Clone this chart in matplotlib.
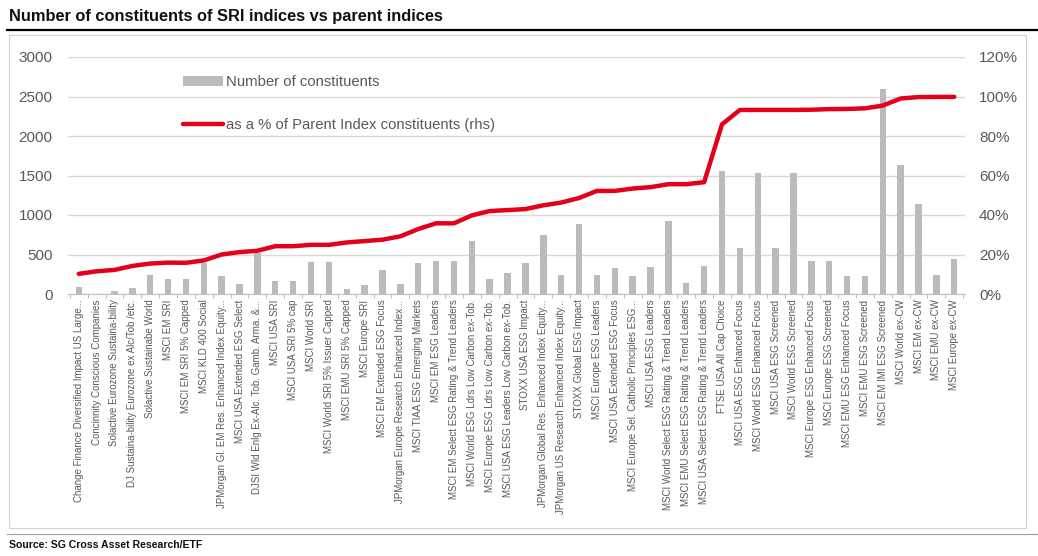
import matplotlib
matplotlib.use("Agg")
import matplotlib.pyplot as plt
from matplotlib.patches import Rectangle
from matplotlib.lines import Line2D
from matplotlib.ticker import FuncFormatter, FixedLocator

plt.rcParams['font.family'] = ['Liberation Sans', 'DejaVu Sans']

categories = [
    "Change Finance Diversified Impact US Large...",
    "Concinnity Conscious Companies",
    "Solactive Eurozone Sustaina-bility",
    "DJ Sustaina-bility Eurozone ex Alc/Tob /etc.",
    "Solactive Sustainabe World",
    "MSCI EM SRI",
    "MSCI EM SRI 5% Capped",
    "MSCI KLD 400 Social",
    "JPMorgan Gl. EM Res. Enhanced Index Equity...",
    "MSCI USA Extended ESG Select",
    "DJSI Wld Enlg Ex-Alc. Tob. Gamb. Arma. &...",
    "MSCI USA SRI",
    "MSCI USA SRI 5% cap",
    "MSCI World SRI",
    "MSCI World SRI 5% Issuer Capped",
    "MSCI EMU SRI 5% Capped",
    "MSCI Europe SRI",
    "MSCI EM Extended ESG Focus",
    "JPMorgan Europe Research Enhanced Index...",
    "MSCI TIAA ESG Emerging Markets",
    "MSCI EM ESG Leaders",
    "MSCI EM Select ESG Rating & Trend Leaders",
    "MSCI World ESG Ldrs Low Carbon ex-Tob.",
    "MSCI Europe ESG Ldrs Low Carbon ex-Tob.",
    "MSCI USA ESG Leaders Low Carbon ex-Tob.",
    "STOXX USA ESG Impact",
    "JPMorgan Global Res. Enhanced Index Equity...",
    "JPMorgan US Research Enhanced Index Equity...",
    "STOXX Global ESG Impact",
    "MSCI Europe ESG Leaders",
    "MSCI USA Extended ESG Focus",
    "MSCI Europe Sel. Catholic Principles ESG...",
    "MSCI USA ESG Leaders",
    "MSCI World Select ESG Rating & Trend Leaders",
    "MSCI EMU Select ESG Rating & Trend Leaders",
    "MSCI USA Select ESG Rating & Trend Leaders",
    "FTSE USA All Cap Choice",
    "MSCI USA ESG Enhanced Focus",
    "MSCI World ESG Enhanced Focus",
    "MSCI USA ESG Screened",
    "MSCI World ESG Screened",
    "MSCI Europe ESG Enhanced Focus",
    "MSCI Europe ESG Screened",
    "MSCI EMU ESG Enhanced Focus",
    "MSCI EMU ESG Screened",
    "MSCI EM IMI ESG Screened",
    "MSCI World ex-CW",
    "MSCI EM ex-CW",
    "MSCI EMU ex-CW",
    "MSCI Europe ex-CW",
]

constituents = [93, 5, 42, 76, 246, 186, 186, 390, 233, 127,
                517, 161, 161, 403, 403, 68, 110, 309, 127, 390,
                419, 419, 665, 193, 270, 390, 745, 237, 880, 236,
                326, 233, 339, 919, 140, 356, 1559, 585, 1530, 585,
                1530, 415, 415, 233, 233, 2593, 1636, 1136, 246, 449]

pct_parent = [10.2, 11.5, 12.2, 14.2, 15.4, 15.9, 15.8, 17.0, 20.0, 21.2,
              21.9, 24.2, 24.2, 24.9, 24.9, 26.1, 26.8, 27.5, 29.2, 32.9,
              35.8, 35.8, 39.8, 42.0, 42.5, 43.0, 44.9, 46.3, 48.6, 52.2,
              52.2, 53.4, 54.1, 55.6, 55.6, 56.6, 85.9, 93.2, 93.2, 93.2,
              93.2, 93.3, 93.6, 93.7, 94.0, 95.4, 99.0, 99.7, 99.8, 99.8]

left_ticks = [0, 500, 1000, 1500, 2000, 2500, 3000]
right_ticks = [0, 20, 40, 60, 80, 100, 120]

title = "Number of constituents of SRI indices vs parent indices"
source = "Source: SG Cross Asset Research/ETF"

GRAY_TXT = "#595959"
BAR_C = "#BEBABA"
RED = "#E2001A"
GRID = "#D9D9D9"

fig = plt.figure(figsize=(10.38, 5.56), dpi=100)
W, H = 1038, 556

def fx(px):
    return px / W

def fy(py):
    return 1 - py / H

# Frame decorations
fig.add_artist(Line2D([fx(7), fx(1038)], [fy(30), fy(30)], color="black", lw=1.6))
fig.add_artist(Rectangle((fx(9), fy(528)), fx(1026) - fx(9), fy(35) - fy(528),
                         fill=False, edgecolor="#D0D0D0", lw=0.8))
fig.add_artist(Line2D([fx(7), fx(1038)], [fy(534), fy(534)], color="#A0A0A0", lw=0.8))
fig.text(fx(9), fy(17), title, fontsize=11.8, fontweight="bold", color="#111111",
         ha="left", va="center")
fig.text(fx(9), fy(545), source, fontsize=7.6, fontweight="bold", color="#111111",
         ha="left", va="center")

ax = fig.add_axes([fx(68), fy(294), fx(965) - fx(68), fy(57) - fy(294)])
x = list(range(len(categories)))
ax.bar(x, constituents, width=0.36, color=BAR_C, zorder=2,
       label="Number of constituents")
ax.set_ylim(0, 3000)
ax.set_xlim(-0.6, len(categories) - 0.4)
ax.set_yticks(left_ticks)
ax.yaxis.grid(True, color=GRID, lw=1.0, zorder=0)
ax.set_axisbelow(True)
for s in ["top", "right", "left"]:
    ax.spines[s].set_visible(False)
ax.spines["bottom"].set_color("#BFBFBF")
ax.spines["bottom"].set_linewidth(0.8)
ax.tick_params(axis="y", length=0, labelsize=11, labelcolor=GRAY_TXT, pad=11)
ax.set_xticks(x)
ax.set_xticklabels(categories, rotation=90, fontsize=7.05, color=GRAY_TXT)
ax.tick_params(axis="x", length=0, pad=4)
ax.xaxis.set_minor_locator(FixedLocator([i + 0.5 for i in range(-1, len(categories))]))
ax.tick_params(axis="x", which="minor", length=3, color="#BFBFBF", width=0.8)

ax2 = ax.twinx()
ax2.plot(x, pct_parent, color=RED, lw=3.2, solid_capstyle="round", zorder=3,
         label="as a % of Parent Index constituents (rhs)")
ax2.set_ylim(0, 120)
ax2.set_yticks(right_ticks)
ax2.yaxis.set_major_formatter(FuncFormatter(lambda v, p: f"{v:.0f}%"))
for s in ["top", "right", "left", "bottom"]:
    ax2.spines[s].set_visible(False)
ax2.tick_params(axis="y", length=0, labelsize=11, labelcolor=GRAY_TXT, pad=10)

h1, l1 = ax.get_legend_handles_labels()
h2, l2 = ax2.get_legend_handles_labels()
leg = ax2.legend(h1 + h2, l1 + l2, loc="upper left",
                 bbox_to_anchor=((180 - 68) / (965 - 68) - 0.003, (294 - 69) / (294 - 57)),
                 frameon=False, fontsize=10.7, labelcolor=GRAY_TXT,
                 handlelength=2.7, handletextpad=0.2, labelspacing=1.95,
                 borderaxespad=0)

fig.savefig("out.png", dpi=100)
